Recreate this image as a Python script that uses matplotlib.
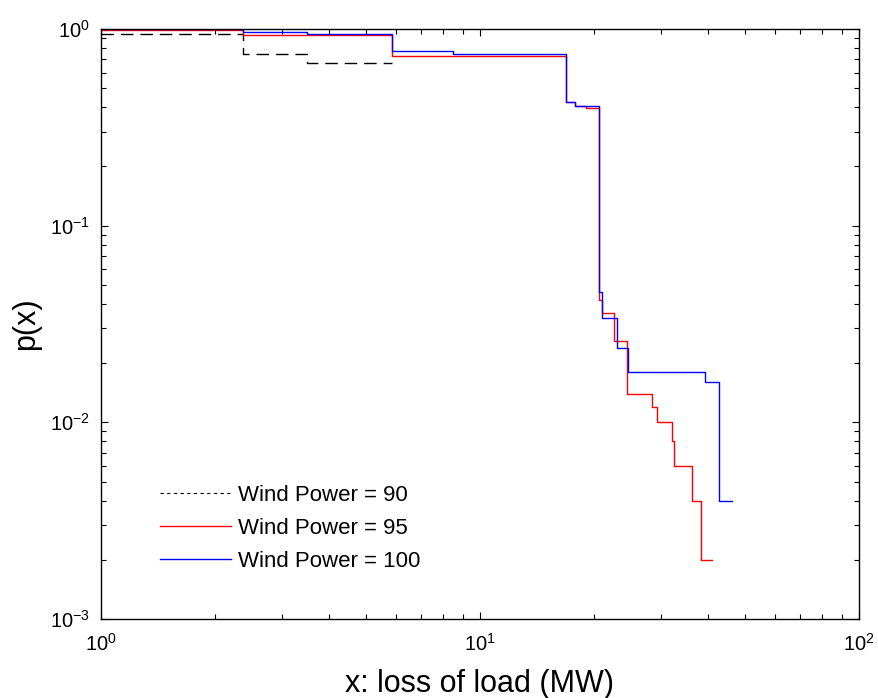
import matplotlib.pyplot as plt
from matplotlib.lines import Line2D

# Wind Power = 90
x_90 = [1.0, 2.37, 3.49, 5.85]
p_90 = [0.946, 0.742, 0.672, 0.672]

# Wind Power = 95
x_95 = [1.0, 2.37, 5.85, 16.9, 17.8, 19.1, 20.6, 21.0, 22.6, 24.5,
        28.5, 29.3, 32.2, 32.5, 36.3, 38.3, 40.9]
p_95 = [0.984, 0.932, 0.732, 0.426, 0.408, 0.398, 0.042, 0.036, 0.026, 0.014,
        0.012, 0.010, 0.008, 0.006, 0.004, 0.002, 0.002]

# Wind Power = 100
x_100 = [1.0, 2.37, 3.49, 5.85, 8.5, 16.9, 17.8, 20.6, 21.0, 23.0,
         24.6, 39.2, 42.7, 46.3]
p_100 = [0.998, 0.962, 0.946, 0.772, 0.742, 0.426, 0.408, 0.046, 0.034, 0.024,
         0.018, 0.016, 0.004, 0.004]

labels = ['Wind Power = 90', 'Wind Power = 95', 'Wind Power = 100']

plt.rcParams['font.family'] = 'Liberation Sans'
plt.rcParams['mathtext.fontset'] = 'custom'
plt.rcParams['mathtext.rm'] = 'Liberation Sans'
plt.rcParams['mathtext.it'] = 'Liberation Sans'

fig = plt.figure(figsize=(8.79, 6.98), dpi=100)
ax = fig.add_axes([0.1149, 0.1132, 0.8623, 0.8453])

ax.plot(x_90, p_90, color='k', lw=1.0, ls=(0, (9, 5)), drawstyle='steps-post')
ax.plot(x_95, p_95, color='#ff0000', lw=1.0, drawstyle='steps-post')
ax.plot(x_100, p_100, color='#0000ff', lw=1.0, drawstyle='steps-post')

ax.set_xscale('log')
ax.set_yscale('log')
ax.set_xlim(1, 100)
ax.set_ylim(1e-3, 1)

ax.tick_params(which='both', direction='in', top=True, right=True, labelsize=14.5)
ax.tick_params(which='major', length=5, width=0.8)
ax.tick_params(which='minor', length=3.5, width=0.8)
ax.tick_params(axis='x', pad=10)
ax.tick_params(axis='y', pad=8)
for s in ax.spines.values():
    s.set_linewidth(1.0)

ax.set_xlabel('x: loss of load (MW)', fontsize=22, labelpad=10)
ax.set_ylabel('p(x)', fontsize=22, labelpad=6)

handles = [Line2D([], [], color='k', lw=0.8, ls=(0, (3, 3))),
           Line2D([], [], color='#ff0000', lw=1.0),
           Line2D([], [], color='#0000ff', lw=1.0)]
ax.legend(handles, labels, loc='upper left', bbox_to_anchor=(0.078, 0.2275),
          frameon=False, fontsize=16, handlelength=3.2, handletextpad=0.3,
          labelspacing=0.55, borderpad=0, borderaxespad=0)

plt.savefig('out.png', dpi=100)
